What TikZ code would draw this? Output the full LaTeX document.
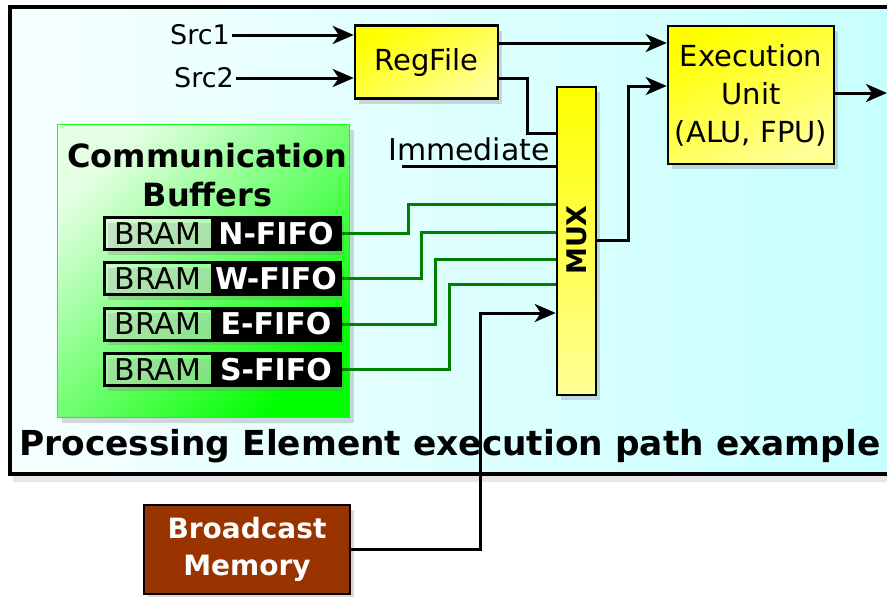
\documentclass[tikz,border=0pt]{standalone}
\usepackage{fontspec}
\setmainfont{DejaVu Sans}
\usetikzlibrary{arrows.meta,shadows}
\definecolor{framel}{RGB}{246,255,255}
\definecolor{framer}{RGB}{198,255,255}
\definecolor{yel}{RGB}{255,255,0}
\definecolor{yelpale}{RGB}{255,255,150}
\definecolor{grnlight}{RGB}{228,255,228}
\definecolor{grndark}{RGB}{0,255,0}
\definecolor{grnborder}{RGB}{20,250,20}
\definecolor{wiregreen}{RGB}{0,128,0}
\definecolor{bcastbrown}{RGB}{153,51,0}
\begin{document}
\begin{tikzpicture}[x=1pt,y=-1pt,
  shadowed/.style={drop shadow={opacity=0.3,shadow xshift=4pt,shadow yshift=-5pt}},
  ybox/.style={draw=black,line width=2.5pt,inner sep=0pt,shadowed,
     top color=yel,bottom color=yelpale,shading angle=30},
  txt/.style={inner sep=2pt,font=\fontsize{27}{32}\selectfont},
  brambox/.style={draw=black,line width=3pt,fill=white,fill opacity=0.3,text opacity=1,
     minimum width=108pt,minimum height=32pt,inner sep=0pt,shadowed,
     font=\fontsize{30}{34}\selectfont},
  fifobox/.style={draw=black,line width=3pt,fill=black,text=white,
     minimum width=128pt,minimum height=32pt,inner sep=0pt,shadowed,
     font=\bfseries\fontsize{30}{34}\selectfont},
  wire/.style={line width=3pt,draw=black},
  arr/.style={wire,-{Stealth[length=21pt,width=18pt,inset=6pt]}},
  gwire/.style={line width=3pt,draw=wiregreen},
]
\useasboundingbox (0,0) rectangle (887,597);
\clip (0,0) rectangle (887,597);

% outer frame
\path[draw=black,line width=3.5pt,left color=framel,right color=framer,
  drop shadow={opacity=0.2,shadow xshift=3pt,shadow yshift=-8pt}] (10,7) rectangle (905,474);

% communication buffers
\node[draw=grnborder,line width=1.5pt,top color=grnlight,bottom color=grndark,
  shading angle=45,minimum width=292pt,minimum height=293pt,inner sep=0pt,shadowed]
  (combuf) at (203.5,271) {};
\node[anchor=base,inner sep=0pt,font=\bfseries\fontsize{32}{38}\selectfont] (cbt1) at (207.5,167) {Communication};
\node[anchor=base,inner sep=0pt,font=\bfseries\fontsize{32}{38}\selectfont] (cbt2) at (207.5,206) {Buffers};
\foreach \d/\y in {N/233.5,W/278.5,E/324,S/369.5}{
  \node[brambox] (bram\d) at (158,\y) {BRAM};
  \node[fifobox] (fifo\d) at (276,\y) {\d-FIFO};
}

% boxes
\node[ybox,minimum width=143pt,minimum height=73pt,font=\fontsize{29}{34}\selectfont] (regfile) at (426.5,62) {RegFile};
\node[ybox,minimum width=166pt,minimum height=138pt,align=center,font=\fontsize{29}{38}\selectfont] (exec) at (751,95) {Execution\\Unit\\(ALU, FPU)};
\node[ybox,top color=yel,bottom color=yelpale,shading angle=0,minimum width=39pt,minimum height=308pt] (mux) at (576.5,241) {};
\node[rotate=90,inner sep=0pt,font=\bfseries\fontsize{27}{32}\selectfont] (muxlabel) at (577,240) {MUX};

% inputs
\node[txt,anchor=east] (src1) at (232,35) {Src1};
\node[txt,anchor=east] (src2) at (236,78) {Src2};
\node[inner sep=0pt,anchor=base west,font=\fontsize{30}{34}\selectfont] (imm) at (388,160) {Immediate};
\coordinate (immstart) at (402,166);

% broadcast memory
\node[draw=black,line width=2.5pt,fill=bcastbrown,text=white,align=center,inner sep=0pt,
  minimum width=206pt,minimum height=89pt,shadowed,font=\bfseries\fontsize{28}{37}\selectfont]
  (bcast) at (247,549.5) {Broadcast\\Memory};

% title
\node[anchor=base west,inner sep=0pt,font=\bfseries\fontsize{34.4}{40}\selectfont] (title) at (19,455) {Processing Element execution path example};

% connectors
\draw[arr] (src1.east) -- (src1.east -| regfile.west);
\draw[arr] (src2.east) -- (src2.east -| regfile.west);
\draw[arr] (regfile.east |- 0,43) -- (exec.west |- 0,43);
\draw[wire] (regfile.east |- 0,78) -| (527,133) -- (mux.west |- 0,133);
\draw[wire] (immstart) -- (immstart -| mux.west);
\draw[arr] (mux.east |- 0,240) -| (628,86) -- (exec.west |- 0,86);
\coordinate (out) at (887,93);
\draw[arr] (exec.east |- out) -- (out);

\draw[gwire] (fifoN.east) -| (408,204) -- (mux.west |- 0,204);
\draw[gwire] (fifoW.east) -| (421,232) -- (mux.west |- 0,232);
\draw[gwire] (fifoE.east) -| (435,259) -- (mux.west |- 0,259);
\draw[gwire] (fifoS.east) -| (449,284) -- (mux.west |- 0,284);

\draw[arr] (bcast.east |- 0,549) -| (480,313) -- (mux.west |- 0,313);
\end{tikzpicture}
\end{document}
